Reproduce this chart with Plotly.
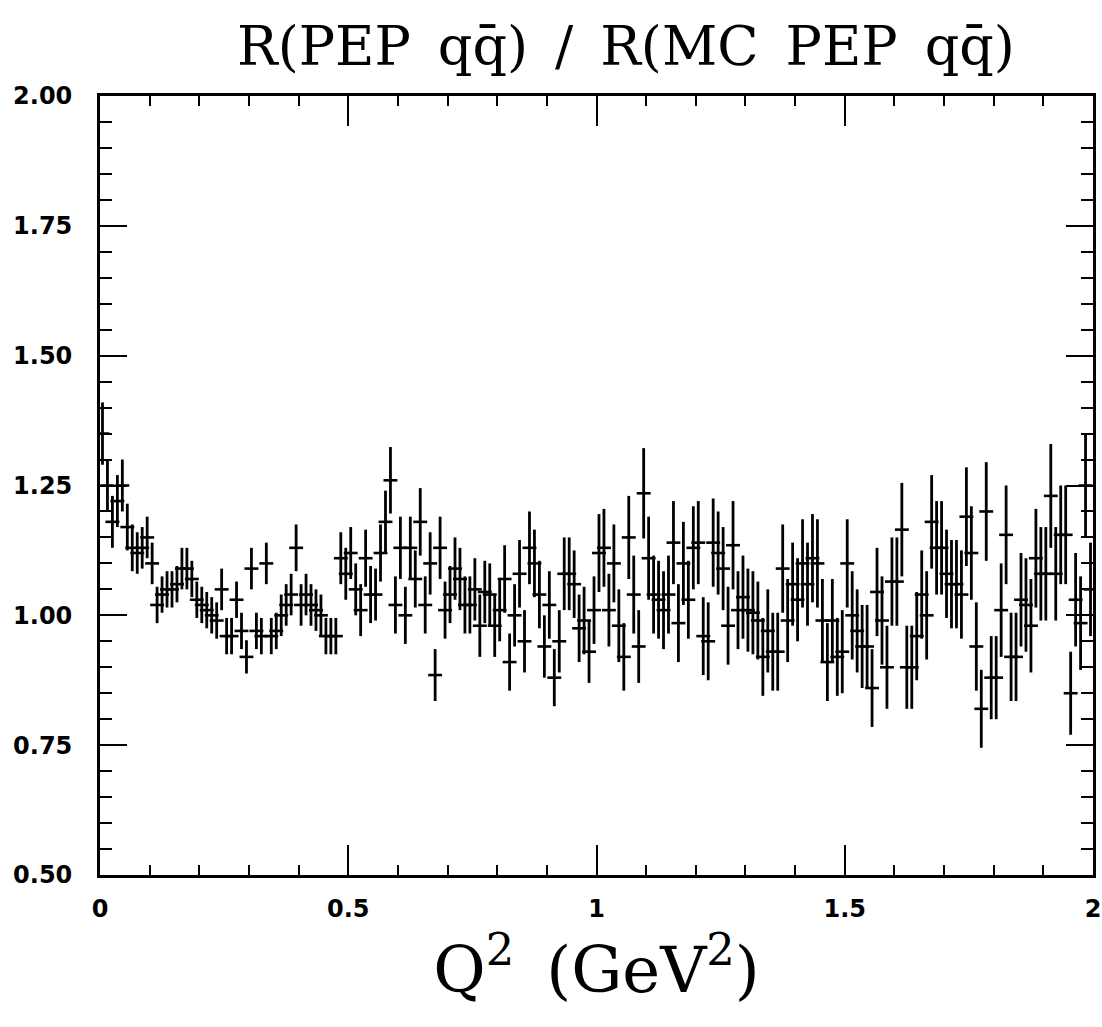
import plotly.graph_objects as go

# Q^2 bin centres (GeV^2), 0.01 wide bins
q2 = [round(0.005 + 0.01 * i, 3) for i in range(200)]

ratio = [
    1.35, 1.25, 1.18, 1.22, 1.25, 1.17, 1.13, 1.12, 1.13, 1.15,
    1.10, 1.02, 1.04, 1.05, 1.05, 1.06, 1.09, 1.09, 1.07, 1.03,
    1.02, 1.01, 1.00, 0.99, 1.05, 0.96, 0.96, 1.03, 0.97, 0.92,
    1.09, 0.97, 0.96, 1.10, 0.96, 0.97, 1.00, 1.02, 1.04, 1.13,
    1.02, 1.04, 1.02, 1.01, 1.00, 0.96, 0.96, 0.96, 1.11, 1.08,
    1.12, 1.05, 1.01, 1.11, 1.04, 1.04, 1.12, 1.18, 1.26, 1.02,
    1.13, 1.00, 1.13, 1.07, 1.18, 1.02, 1.10, 0.885, 1.13, 1.01,
    1.04, 1.09, 1.07, 1.02, 1.02, 1.05, 0.98, 1.045, 1.04, 0.98,
    1.01, 1.07, 0.91, 1.00, 1.08, 0.95, 1.13, 1.10, 1.04, 0.94,
    1.02, 0.88, 0.95, 1.08, 1.08, 1.06, 0.975, 0.99, 0.93, 1.01,
    1.12, 1.13, 1.01, 1.10, 0.98, 0.92, 1.15, 1.04, 0.94, 1.235,
    1.11, 1.04, 1.03, 1.01, 1.04, 1.14, 0.985, 1.10, 1.03, 1.13,
    1.14, 0.96, 0.95, 1.14, 1.12, 1.09, 0.98, 1.135, 1.01, 1.035,
    1.01, 1.005, 0.99, 0.92, 0.97, 0.93, 0.93, 1.09, 0.99, 1.06,
    1.03, 1.10, 1.06, 1.11, 1.10, 0.99, 0.91, 0.99, 0.92, 0.93,
    1.10, 1.00, 0.97, 0.94, 0.94, 0.86, 1.045, 0.99, 0.90, 1.065,
    1.065, 1.165, 0.90, 0.90, 0.96, 1.04, 1.00, 1.18, 1.13, 1.13,
    1.08, 1.06, 1.06, 1.04, 1.19, 1.12, 0.94, 0.82, 1.20, 0.88,
    0.88, 1.01, 1.155, 0.92, 0.92, 1.03, 1.02, 0.98, 1.11, 1.08,
    1.08, 1.23, 1.08, 1.155, 1.155, 0.85, 1.03, 0.985, 1.25, 1.05,
]

ratio_err = [
    0.060, 0.050, 0.050, 0.050, 0.050, 0.045, 0.045, 0.040, 0.040, 0.040,
    0.040, 0.035, 0.035, 0.035, 0.035, 0.035, 0.040, 0.040, 0.035, 0.035,
    0.035, 0.035, 0.035, 0.035, 0.040, 0.035, 0.035, 0.035, 0.035, 0.032,
    0.040, 0.035, 0.035, 0.040, 0.035, 0.035, 0.040, 0.040, 0.040, 0.045,
    0.040, 0.040, 0.040, 0.040, 0.040, 0.035, 0.035, 0.035, 0.050, 0.050,
    0.050, 0.050, 0.050, 0.055, 0.055, 0.050, 0.055, 0.060, 0.064, 0.055,
    0.060, 0.055, 0.060, 0.055, 0.065, 0.055, 0.060, 0.050, 0.060, 0.055,
    0.055, 0.060, 0.060, 0.055, 0.055, 0.060, 0.060, 0.060, 0.060, 0.060,
    0.060, 0.065, 0.055, 0.060, 0.065, 0.060, 0.070, 0.065, 0.065, 0.060,
    0.065, 0.055, 0.060, 0.070, 0.070, 0.065, 0.065, 0.065, 0.060, 0.065,
    0.075, 0.075, 0.070, 0.075, 0.070, 0.065, 0.080, 0.075, 0.070, 0.087,
    0.080, 0.075, 0.075, 0.075, 0.075, 0.080, 0.075, 0.080, 0.075, 0.080,
    0.080, 0.075, 0.075, 0.085, 0.080, 0.080, 0.075, 0.085, 0.075, 0.080,
    0.080, 0.080, 0.075, 0.075, 0.080, 0.075, 0.075, 0.085, 0.080, 0.080,
    0.080, 0.085, 0.080, 0.085, 0.085, 0.080, 0.075, 0.080, 0.075, 0.080,
    0.085, 0.085, 0.080, 0.080, 0.080, 0.075, 0.085, 0.085, 0.080, 0.085,
    0.085, 0.090, 0.080, 0.080, 0.085, 0.085, 0.085, 0.090, 0.090, 0.090,
    0.085, 0.085, 0.085, 0.085, 0.095, 0.090, 0.085, 0.075, 0.095, 0.080,
    0.080, 0.090, 0.095, 0.085, 0.085, 0.090, 0.090, 0.090, 0.095, 0.090,
    0.090, 0.100, 0.090, 0.095, 0.095, 0.080, 0.090, 0.090, 0.100, 0.090,
]

bin_half_width = [0.014] * len(q2)

x_tick_vals = [0, 0.5, 1, 1.5, 2]
x_tick_text = ["0", "0.5", "1", "1.5", "2"]
y_tick_vals = [0.5, 0.75, 1.0, 1.25, 1.5, 1.75, 2.0]
y_tick_text = ["0.50", "0.75", "1.00", "1.25", "1.50", "1.75", "2.00"]

fig = go.Figure()
fig.add_trace(go.Scatter(
    x=q2, y=ratio, mode="markers",
    marker=dict(size=1, color="black"),
    error_y=dict(type="data", array=ratio_err, color="black", thickness=2.8, width=0),
    error_x=dict(type="data", array=bin_half_width, color="black", thickness=2.6, width=0),
    showlegend=False,
))

axis_common = dict(
    showgrid=False, zeroline=False, showline=True, linecolor="black", linewidth=2.8,
    mirror="ticks", ticks="inside", tickcolor="black", tickwidth=2.4,
    automargin=False,
    tickfont=dict(family="DejaVu Sans", size=24, color="black", weight="bold"),
)

fig.update_xaxes(
    range=[0, 2], tickvals=x_tick_vals, ticktext=x_tick_text, ticklen=30,
    ticklabelstandoff=10,
    minor=dict(dtick=0.1, ticklen=10, ticks="inside", tickcolor="black", tickwidth=2),
    title=dict(text="Q<sup>2</sup>\u2002(GeV<sup>2</sup>)",
               font=dict(family="DejaVu Serif", size=64, color="black"), standoff=22),
    **axis_common,
)
fig.update_yaxes(
    range=[0.5, 2.0], tickvals=y_tick_vals, ticktext=y_tick_text, ticklen=27,
    ticklabelstandoff=20,
    minor=dict(dtick=0.05, ticklen=12, ticks="inside", tickcolor="black", tickwidth=2),
    **axis_common,
)

fig.update_layout(
    width=1102, height=1027,
    margin=dict(l=100, r=9, t=96, b=152),
    paper_bgcolor="white", plot_bgcolor="white",
    title=dict(text="R(PEP\u2002q\u0071\u0304)\u2002/\u2002R(MC\u2002PEP\u2002q\u0071\u0304)",
               font=dict(family="DejaVu Serif", size=54, color="black"),
               x=0.568, xanchor="center", y=0.955, yanchor="middle"),
)

fig.write_html("out.html")
